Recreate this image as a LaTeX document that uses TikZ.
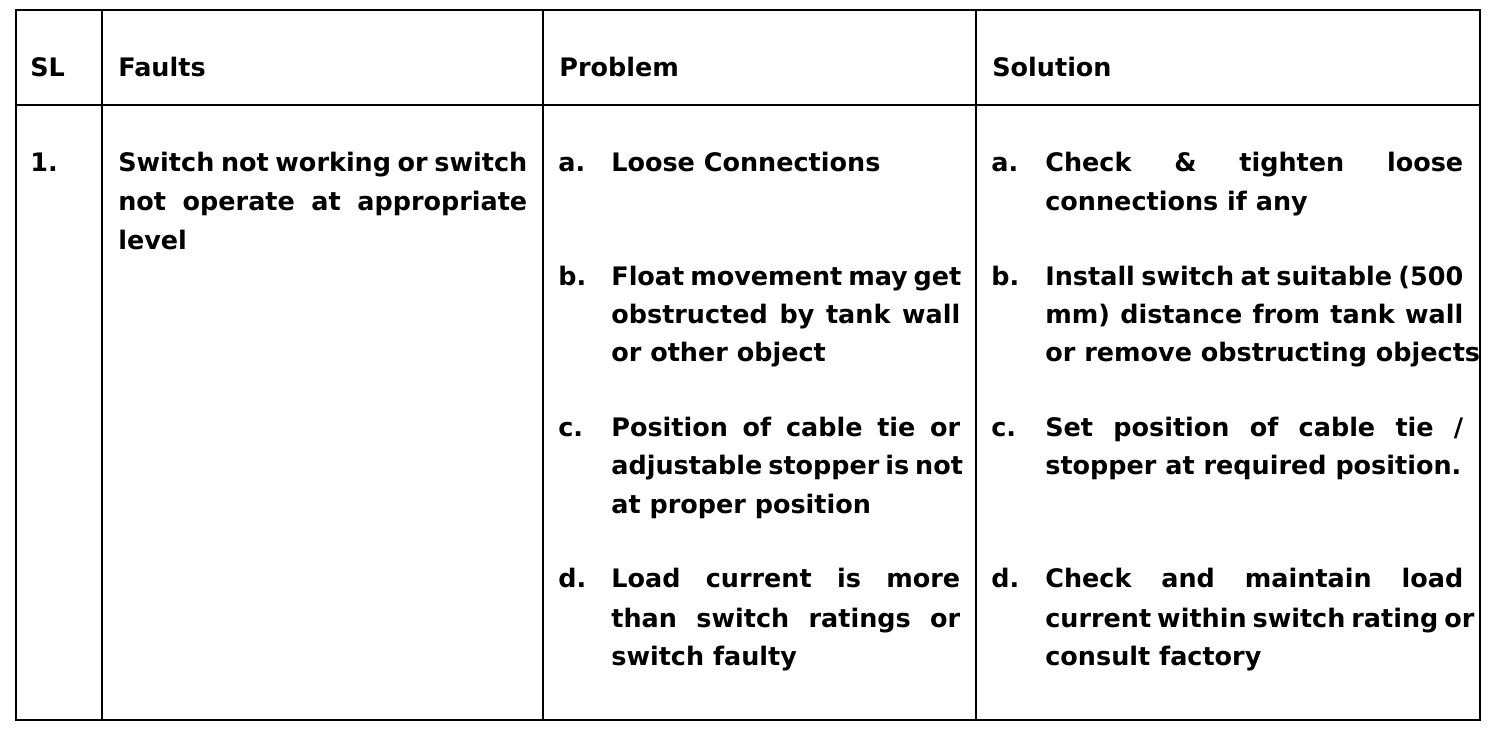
\documentclass[tikz,border=0pt]{standalone}
\usepackage{fontspec}
\setmainfont{DejaVu Sans}
\newcommand{\jline}[2]{\makebox[#1][s]{#2}}
\begin{document}
\begin{tikzpicture}[x=0.02cm,y=-0.02cm,
  txt/.style={anchor=base west,inner sep=0pt,font=\fontsize{14.5}{17}\bfseries}]
  \useasboundingbox (0,0) rectangle (1492,736);
  % Grid
  \draw[line width=0.8pt] (16,10) rectangle (1480,720);
  \draw[line width=0.8pt] (16,105) -- (1480,105);
  \draw[line width=0.8pt] (102,10) -- (102,720);
  \draw[line width=0.8pt] (543,10) -- (543,720);
  \draw[line width=0.8pt] (976,10) -- (976,720);
  % Header
  \node[txt] (sl) at (30,77) {SL};
  \node[txt] (faults) at (118,77) {Faults};
  \node[txt] (problem) at (559,77) {Problem};
  \node[txt] (solution) at (992,77) {Solution};
  % Faults
  \node[txt] at (30,172) {1.};
  \node[txt] at (118,172) {\jline{8.18cm}{Switch not working or switch}};
  \node[txt] at (118,211) {\jline{8.18cm}{not operate at appropriate}};
  \node[txt] at (118,250) {level};
  % Problem
  \node[txt] at (558,172) {a.};
  \node[txt] at (611,172) {Loose Connections};
  \node[txt] at (558,286) {b.};
  \node[txt] at (611,286) {\jline{6.98cm}{Float movement may get}};
  \node[txt] at (611,324) {\jline{6.98cm}{obstructed by tank wall}};
  \node[txt] at (611,362) {or other object};
  \node[txt] at (558,437) {c.};
  \node[txt] at (611,437) {\jline{6.98cm}{Position of cable tie or}};
  \node[txt] at (611,475) {\jline{6.98cm}{adjustable stopper is not}};
  \node[txt] at (611,514) {at proper position};
  \node[txt] at (558,588) {d.};
  \node[txt] at (611,588) {\jline{6.98cm}{Load current is more}};
  \node[txt] at (611,627) {\jline{6.98cm}{than switch ratings or}};
  \node[txt] at (611,665) {switch faulty};
  % Solution
  \node[txt] at (991,172) {a.};
  \node[txt] at (1045,172) {\jline{8.36cm}{Check \& tighten loose}};
  \node[txt] at (1045,211) {connections if any};
  \node[txt] at (991,286) {b.};
  \node[txt] at (1045,286) {\jline{8.36cm}{Install switch at suitable (500}};
  \node[txt] at (1045,324) {\jline{8.36cm}{mm) distance from tank wall}};
  \node[txt] at (1045,362) {or remove obstructing objects};
  \node[txt] at (991,437) {c.};
  \node[txt] at (1045,437) {\jline{8.36cm}{Set position of cable tie /}};
  \node[txt] at (1045,475) {stopper at required position.};
  \node[txt] at (991,588) {d.};
  \node[txt] at (1045,588) {\jline{8.36cm}{Check and maintain load}};
  \node[txt] at (1045,627) {\jline{8.36cm}{current within switch rating or}};
  \node[txt] at (1045,665) {consult factory};
\end{tikzpicture}
\end{document}
